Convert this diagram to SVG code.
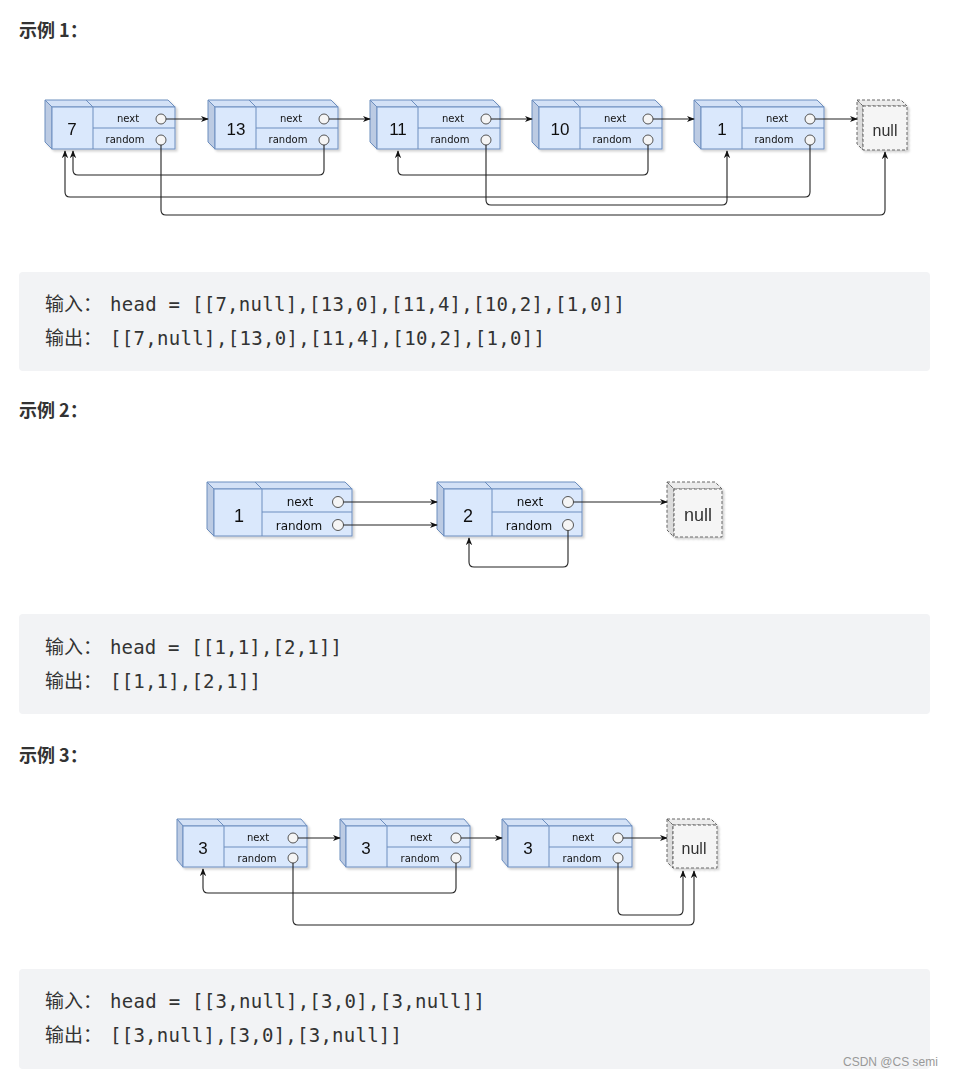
<svg xmlns="http://www.w3.org/2000/svg" width="955" height="1076" viewBox="0 0 955 1076">
<style>
.bg{fill:#ffffff}
.code{fill:#f2f3f5}
.h{font-family:"Noto Sans CJK SC","Liberation Sans",sans-serif;font-weight:bold;font-size:18px;fill:#333}
.cj{font-family:"Noto Sans CJK SC",sans-serif;font-size:19px;fill:#333}
.mono{font-family:"DejaVu Sans Mono",monospace;font-size:19px;fill:#333}
.front{fill:#dae8fc;stroke:#6c8ebf;stroke-width:1}
.top{fill:#d3e1f6;stroke:#6c8ebf;stroke-width:1}
.side{fill:#bccbe3;stroke:#6c8ebf;stroke-width:1}
.ln{stroke:#6c8ebf;stroke-width:1;fill:none}
.nf{fill:#f5f5f5;stroke:#666;stroke-width:1;stroke-dasharray:3 2}
.nt{fill:#ececec;stroke:#666;stroke-width:1;stroke-dasharray:3 2}
.ns{fill:#dcdcdc;stroke:#666;stroke-width:1;stroke-dasharray:3 2}
.num{font-family:"Liberation Sans",Arial,sans-serif;fill:#111;text-anchor:middle}
.lab{font-family:"DejaVu Sans",sans-serif;fill:#111;text-anchor:middle}
.nul{font-family:"Liberation Sans",Arial,sans-serif;fill:#333;text-anchor:middle}
.dot{fill:#f5f5f5;stroke:#555;stroke-width:1}
.c{fill:none;stroke:#222;stroke-width:1.1;marker-end:url(#ah)}
.wm{font-family:"Liberation Sans",Arial,sans-serif;font-size:12px;fill:#999}
</style>
<defs>
<marker id="ah" viewBox="0 0 10 10" refX="9" refY="5" markerWidth="8" markerHeight="8" markerUnits="userSpaceOnUse" orient="auto">
<path d="M0,1 L10,5 L0,9 L3,5 Z" fill="#111"/>
</marker>
<filter id="sh" x="-10%" y="-10%" width="130%" height="140%">
<feDropShadow dx="2" dy="2" stdDeviation="1.2" flood-color="#000" flood-opacity="0.18"/>
</filter>
</defs>
<rect class="bg" x="0" y="0" width="955" height="1076"/>

<g id="headings">
<text class="h" x="19" y="37">示例 1：</text>
<text class="h" x="19" y="417">示例 2：</text>
<text class="h" x="19" y="762">示例 3：</text>
</g>

<g id="code1">
<rect class="code" x="19" y="272" width="911" height="99" rx="4"/>
<text class="cj" x="45" y="311">输入：</text><text class="mono" x="110" y="311" textLength="515" lengthAdjust="spacing">head = [[7,null],[13,0],[11,4],[10,2],[1,0]]</text>
<text class="cj" x="45" y="345">输出：</text><text class="mono" x="110" y="345" textLength="435" lengthAdjust="spacing">[[7,null],[13,0],[11,4],[10,2],[1,0]]</text>
</g>
<g id="code2">
<rect class="code" x="19" y="614" width="911" height="100" rx="4"/>
<text class="cj" x="45" y="654">输入：</text><text class="mono" x="110" y="654" textLength="232" lengthAdjust="spacing">head = [[1,1],[2,1]]</text>
<text class="cj" x="45" y="688">输出：</text><text class="mono" x="110" y="688" textLength="151" lengthAdjust="spacing">[[1,1],[2,1]]</text>
</g>
<g id="code3">
<rect class="code" x="19" y="969" width="911" height="100" rx="4"/>
<text class="cj" x="45" y="1008">输入：</text><text class="mono" x="110" y="1008" textLength="375" lengthAdjust="spacing">head = [[3,null],[3,0],[3,null]]</text>
<text class="cj" x="45" y="1042">输出：</text><text class="mono" x="110" y="1042" textLength="292" lengthAdjust="spacing">[[3,null],[3,0],[3,null]]</text>
</g>

<!-- Example 1 nodes -->
<g id="e1n0" filter="url(#sh)">
<polygon class="top" points="45,100 168,100 175,107 52,107"/>
<polygon class="side" points="45,100 52,107 52,149 45,142"/>
<rect class="front" x="52" y="107" width="123" height="42"/>
<path class="ln" d="M86,100 L93,107 V149 M93,128 H175"/>
<text class="num" x="72" y="135" font-size="17">7</text>
<text class="lab" x="128" y="122" font-size="10">next</text>
<text class="lab" x="125" y="143" font-size="10">random</text>
<circle class="dot" cx="161" cy="119" r="5"/><circle class="dot" cx="161" cy="140" r="5"/>
</g>
<g id="e1n1" filter="url(#sh)">
<polygon class="top" points="208,100 331,100 338,107 215,107"/>
<polygon class="side" points="208,100 215,107 215,149 208,142"/>
<rect class="front" x="215" y="107" width="123" height="42"/>
<path class="ln" d="M249,100 L256,107 V149 M256,128 H338"/>
<text class="num" x="236" y="135" font-size="17">13</text>
<text class="lab" x="291" y="122" font-size="10">next</text>
<text class="lab" x="288" y="143" font-size="10">random</text>
<circle class="dot" cx="324" cy="119" r="5"/><circle class="dot" cx="324" cy="140" r="5"/>
</g>
<g id="e1n2" filter="url(#sh)">
<polygon class="top" points="370,100 493,100 500,107 377,107"/>
<polygon class="side" points="370,100 377,107 377,149 370,142"/>
<rect class="front" x="377" y="107" width="123" height="42"/>
<path class="ln" d="M411,100 L418,107 V149 M418,128 H500"/>
<text class="num" x="398" y="135" font-size="17">11</text>
<text class="lab" x="453" y="122" font-size="10">next</text>
<text class="lab" x="450" y="143" font-size="10">random</text>
<circle class="dot" cx="486" cy="119" r="5"/><circle class="dot" cx="486" cy="140" r="5"/>
</g>
<g id="e1n3" filter="url(#sh)">
<polygon class="top" points="532,100 655,100 662,107 539,107"/>
<polygon class="side" points="532,100 539,107 539,149 532,142"/>
<rect class="front" x="539" y="107" width="123" height="42"/>
<path class="ln" d="M573,100 L580,107 V149 M580,128 H662"/>
<text class="num" x="560" y="135" font-size="17">10</text>
<text class="lab" x="615" y="122" font-size="10">next</text>
<text class="lab" x="612" y="143" font-size="10">random</text>
<circle class="dot" cx="648" cy="119" r="5"/><circle class="dot" cx="648" cy="140" r="5"/>
</g>
<g id="e1n4" filter="url(#sh)">
<polygon class="top" points="694,100 817,100 824,107 701,107"/>
<polygon class="side" points="694,100 701,107 701,149 694,142"/>
<rect class="front" x="701" y="107" width="123" height="42"/>
<path class="ln" d="M735,100 L742,107 V149 M742,128 H824"/>
<text class="num" x="722" y="135" font-size="17">1</text>
<text class="lab" x="777" y="122" font-size="10">next</text>
<text class="lab" x="774" y="143" font-size="10">random</text>
<circle class="dot" cx="810" cy="119" r="5"/><circle class="dot" cx="810" cy="140" r="5"/>
</g>
<g id="e1null" filter="url(#sh)">
<polygon class="nt" points="857,100 901,100 907,106 863,106"/>
<polygon class="ns" points="857,100 863,106 863,150 857,144"/>
<rect class="nf" x="863" y="106" width="44" height="44"/>
<text class="nul" x="885" y="136" font-size="16">null</text>
</g>

<!-- Example 2 nodes -->
<g id="e2n0" filter="url(#sh)">
<polygon class="top" points="207,482 345,482 352,489 214,489"/>
<polygon class="side" points="207,482 214,489 214,536 207,529"/>
<rect class="front" x="214" y="489" width="138" height="47"/>
<path class="ln" d="M255,482 L262,489 V536 M262,512 H352"/>
<text class="num" x="239" y="522" font-size="18">1</text>
<text class="lab" x="300" y="506" font-size="12">next</text>
<text class="lab" x="299" y="530" font-size="12">random</text>
<circle class="dot" cx="338" cy="502" r="5.5"/><circle class="dot" cx="338" cy="525" r="5.5"/>
</g>
<g id="e2n1" filter="url(#sh)">
<polygon class="top" points="437,482 575,482 582,489 444,489"/>
<polygon class="side" points="437,482 444,489 444,536 437,529"/>
<rect class="front" x="444" y="489" width="138" height="47"/>
<path class="ln" d="M485,482 L492,489 V536 M492,512 H582"/>
<text class="num" x="468" y="522" font-size="18">2</text>
<text class="lab" x="530" y="506" font-size="12">next</text>
<text class="lab" x="529" y="530" font-size="12">random</text>
<circle class="dot" cx="568" cy="502" r="5.5"/><circle class="dot" cx="568" cy="525" r="5.5"/>
</g>
<g id="e2null" filter="url(#sh)">
<polygon class="nt" points="667,482 715,482 722,489 674,489"/>
<polygon class="ns" points="667,482 674,489 674,537 667,530"/>
<rect class="nf" x="674" y="489" width="48" height="48"/>
<text class="nul" x="698" y="521" font-size="18">null</text>
</g>

<!-- Example 3 nodes -->
<g id="e3n0" filter="url(#sh)">
<polygon class="top" points="177,819 301,819 307,826 183,826"/>
<polygon class="side" points="177,819 183,826 183,867 177,860"/>
<rect class="front" x="183" y="826" width="124" height="41"/>
<path class="ln" d="M217,819 L224,826 V867 M224,847 H307"/>
<text class="num" x="203" y="854" font-size="17">3</text>
<text class="lab" x="258" y="841" font-size="10">next</text>
<text class="lab" x="257" y="862" font-size="10">random</text>
<circle class="dot" cx="293" cy="838" r="5"/><circle class="dot" cx="293" cy="858" r="5"/>
</g>
<g id="e3n1" filter="url(#sh)">
<polygon class="top" points="340,819 464,819 470,826 346,826"/>
<polygon class="side" points="340,819 346,826 346,867 340,860"/>
<rect class="front" x="346" y="826" width="124" height="41"/>
<path class="ln" d="M380,819 L387,826 V867 M387,847 H470"/>
<text class="num" x="366" y="854" font-size="17">3</text>
<text class="lab" x="421" y="841" font-size="10">next</text>
<text class="lab" x="420" y="862" font-size="10">random</text>
<circle class="dot" cx="456" cy="838" r="5"/><circle class="dot" cx="456" cy="858" r="5"/>
</g>
<g id="e3n2" filter="url(#sh)">
<polygon class="top" points="502,819 626,819 632,826 508,826"/>
<polygon class="side" points="502,819 508,826 508,867 502,860"/>
<rect class="front" x="508" y="826" width="124" height="41"/>
<path class="ln" d="M542,819 L549,826 V867 M549,847 H632"/>
<text class="num" x="528" y="854" font-size="17">3</text>
<text class="lab" x="583" y="841" font-size="10">next</text>
<text class="lab" x="582" y="862" font-size="10">random</text>
<circle class="dot" cx="618" cy="838" r="5"/><circle class="dot" cx="618" cy="858" r="5"/>
</g>
<g id="e3null" filter="url(#sh)">
<polygon class="nt" points="667,819 711,819 717,825 673,825"/>
<polygon class="ns" points="667,819 673,825 673,868 667,862"/>
<rect class="nf" x="673" y="825" width="44" height="43"/>
<text class="nul" x="694" y="854" font-size="16">null</text>
</g>

<g id="connectors">
<path class="c" d="M166,119 H208"/>
<path class="c" d="M329,119 H370"/>
<path class="c" d="M491,119 H532"/>
<path class="c" d="M653,119 H694"/>
<path class="c" d="M815,119 H857"/>
<path class="c" d="M324,145 V170 Q324,175 319,175 H78 Q73,175 73,170 V151"/>
<path class="c" d="M648,145 V170 Q648,175 643,175 H403 Q398,175 398,170 V151"/>
<path class="c" d="M486,145 V200 Q486,205 491,205 H722 Q727,205 727,200 V151"/>
<path class="c" d="M810,145 V192 Q810,197 805,197 H70 Q65,197 65,192 V151"/>
<path class="c" d="M161,145 V210 Q161,215 166,215 H880 Q885,215 885,210 V152"/>
<path class="c" d="M343.5,502 H437"/>
<path class="c" d="M343.5,525 H437"/>
<path class="c" d="M573.5,502 H667"/>
<path class="c" d="M568,530.5 V562 Q568,567 563,567 H474 Q469,567 469,562 V538"/>
<path class="c" d="M298,838 H340"/>
<path class="c" d="M461,838 H502"/>
<path class="c" d="M623,838 H667"/>
<path class="c" d="M456,863 V888 Q456,893 451,893 H208 Q203,893 203,888 V869"/>
<path class="c" d="M618,863 V910 Q618,915 623,915 H678 Q683,915 683,910 V871"/>
<path class="c" d="M293,863 V920 Q293,925 298,925 H689 Q694,925 694,920 V871"/>
</g>

<text class="wm" x="843" y="1066">CSDN @CS semi</text>
</svg>
